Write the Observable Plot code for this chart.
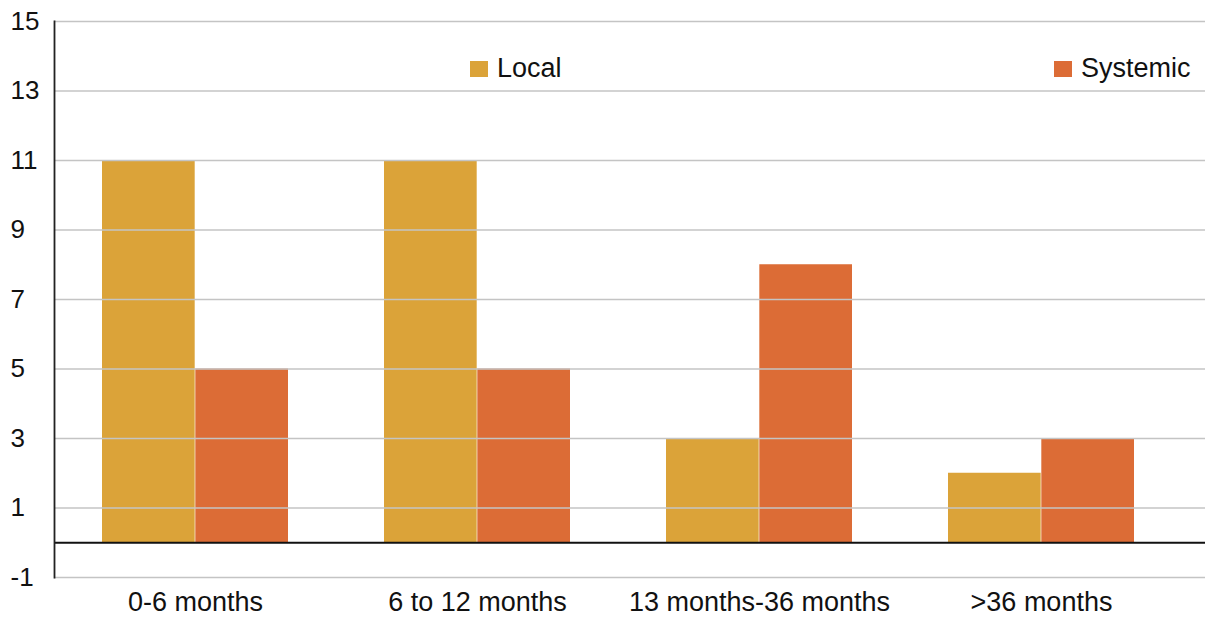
<!DOCTYPE html>
<html>
<head>
<meta charset="utf-8">
<script src="https://cdn.jsdelivr.net/npm/d3@7"></script>
<script src="https://cdn.jsdelivr.net/npm/@observablehq/plot@0.6"></script>
<style>
  html, body { margin: 0; padding: 0; background: #fff; }
  #wrap { position: relative; width: 1205px; height: 617px; font-family: "Liberation Sans", Arial, sans-serif; }
  .leg { position: absolute; font-size: 27px; color: #111; display: flex; align-items: center; }
  .sw { width: 18px; height: 16px; margin-right: 9px; }
</style>
</head>
<body>
<div id="wrap"></div>
<script>
const categories = ["0-6 months", "6 to 12 months", "13 months-36 months", ">36 months"];
const series = ["Local", "Systemic"];
const localValues = [11, 11, 3, 2];
const systemicValues = [5, 5, 8, 3];
const yTicks = [-1, 1, 3, 5, 7, 9, 11, 13, 15];
const colors = ["#DBA339", "#DC6C36"];

const localData = categories.map((c, i) => ({category: c, value: localValues[i]}));
const systemicData = categories.map((c, i) => ({category: c, value: systemicValues[i]}));

const W = 1205, H = 617;
const xRange = [53, 1184];
const pad = 0.34;
const step = (xRange[1] - xRange[0]) / categories.length;
const half = step * (1 - pad) / 2;

const chart = Plot.plot({
  width: W,
  height: H,
  marginLeft: 54,
  marginRight: 0,
  marginTop: 21,
  marginBottom: 40,
  style: {fontFamily: "'Liberation Sans', Arial, sans-serif", fontSize: "27px", color: "#111", background: "#fff", overflow: "visible"},
  x: {domain: categories, range: xRange, paddingInner: pad, paddingOuter: pad / 2, label: null},
  y: {domain: [-1, 15], label: null},
  marks: [
    Plot.barY(localData, {x: "category", y: "value", fill: colors[0], insetRight: half, insetLeft: 0}),
    Plot.barY(systemicData, {x: "category", y: "value", fill: colors[1], insetLeft: half, insetRight: 0}),
    Plot.ruleY(yTicks, {stroke: "#c4c4c4", strokeWidth: 1.6}),
    Plot.ruleY([0], {stroke: "#111", strokeWidth: 1.8}),
    Plot.axisY({ticks: yTicks, tickSize: 0, tickPadding: 44, textAnchor: "start", tickFormat: d => d < 0 ? "-" + Math.abs(d) : String(d), fontSize: 26}),
    Plot.axisX({tickSize: 0, tickPadding: 14, fontSize: 27}),
    Plot.frame({anchor: "left", stroke: "#222", strokeWidth: 1.8})
  ]
});

const wrap = document.getElementById("wrap");
wrap.appendChild(chart);

const legendPos = [{left: 470, top: 53}, {left: 1054, top: 53}];
series.forEach((s, i) => {
  const d = document.createElement("div");
  d.className = "leg";
  d.style.left = legendPos[i].left + "px";
  d.style.top = legendPos[i].top + "px";
  const sw = document.createElement("div");
  sw.className = "sw";
  sw.style.background = colors[i];
  const t = document.createElement("span");
  t.textContent = s;
  d.appendChild(sw);
  d.appendChild(t);
  wrap.appendChild(d);
});
</script>
</body>
</html>
